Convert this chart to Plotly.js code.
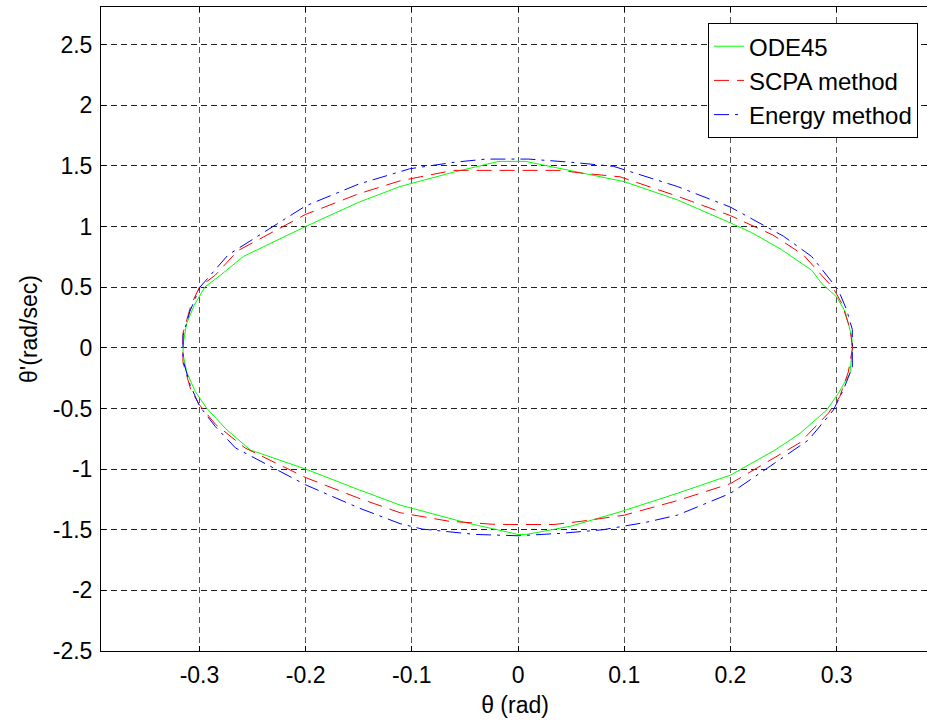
<!DOCTYPE html>
<html>
<head>
<meta charset="utf-8">
<script src="https://cdn.plot.ly/plotly-3.0.1.min.js"></script>
<style>
html,body{margin:0;padding:0;overflow:hidden;background:#fff;}
#chart{width:930px;height:723px;}
</style>
</head>
<body>
<div id="chart"></div>
<script>
// ODE45 (green, solid)
const odeX = [0.3148, 0.3143, 0.308, 0.300, 0.286, 0.2765, 0.248, 0.22, 0.2, 0.15, 0.1, 0.05, 0.007, -0.018, -0.06, -0.111, -0.15, -0.2, -0.2587, -0.28, -0.295, -0.305, -0.312, -0.315, -0.3155, -0.312, -0.304, -0.293, -0.275, -0.252, -0.2, -0.15, -0.111, -0.05, 0.0, 0.008, 0.05, 0.096, 0.15, 0.2, 0.242, 0.2655, 0.2907, 0.3016, 0.3126, 0.3148];
const odeY = [0.0, 0.09, 0.30, 0.42, 0.53, 0.64, 0.81, 0.95, 1.03, 1.22, 1.37, 1.46, 1.537, 1.537, 1.45, 1.33, 1.2, 1.0, 0.753, 0.6, 0.5, 0.35, 0.2, 0.05, -0.05, -0.2, -0.36, -0.5, -0.67, -0.843, -1.0, -1.17, -1.297, -1.44, -1.539, -1.539, -1.47, -1.353, -1.2, -1.05, -0.843, -0.706, -0.513, -0.375, -0.21, 0.0];

// SCPA method (red, dashed)
const scpaX = [0.315, 0.3126, 0.3048, 0.297, 0.2687, 0.24, 0.2, 0.15, 0.096, 0.06, 0.04, -0.003, -0.017, -0.061, -0.111, -0.15, -0.2, -0.264, -0.285, -0.3, -0.308, -0.3155, -0.3155, -0.308, -0.3, -0.285, -0.257, -0.2, -0.15, -0.111, -0.065, -0.024, -0.008, 0.034, 0.06, 0.1, 0.15, 0.2, 0.2655, 0.2922, 0.303, 0.311, 0.315];
const scpaY = [0.0, 0.16, 0.367, 0.49, 0.766, 0.93, 1.09, 1.25, 1.41, 1.44, 1.463, 1.463, 1.463, 1.463, 1.377, 1.27, 1.1, 0.8, 0.6, 0.5, 0.35, 0.12, -0.12, -0.35, -0.47, -0.63, -0.826, -1.07, -1.24, -1.36, -1.43, -1.455, -1.457, -1.457, -1.43, -1.38, -1.26, -1.12, -0.782, -0.54, -0.403, -0.2, 0.0];

// Energy method (blue, dash-dot)
const enX = [0.3148, 0.3148, 0.3095, 0.3016, 0.2765, 0.25, 0.2, 0.15, 0.09, 0.05, 0.01, -0.03, -0.06, -0.102, -0.15, -0.2, -0.273, -0.29, -0.2995, -0.309, -0.3155, -0.3155, -0.309, -0.3, -0.285, -0.266, -0.2, -0.15, -0.111, -0.09, -0.04, 0.0, 0.04, 0.08, 0.12, 0.15, 0.2, 0.2734, 0.297, 0.3063, 0.3148];
const enY = [-0.16, 0.15, 0.312, 0.477, 0.753, 0.92, 1.16, 1.33, 1.496, 1.53, 1.556, 1.556, 1.53, 1.476, 1.35, 1.17, 0.766, 0.6, 0.5, 0.3, 0.1, -0.1, -0.3, -0.48, -0.65, -0.826, -1.13, -1.32, -1.45, -1.495, -1.539, -1.55, -1.53, -1.5, -1.44, -1.38, -1.2, -0.761, -0.513, -0.348, -0.16];

const xTickVals = [-0.3, -0.2, -0.1, 0, 0.1, 0.2, 0.3];
const xTickText = ["-0.3", "-0.2", "-0.1", "0", "0.1", "0.2", "0.3"];
const yTickVals = [-2.5, -2, -1.5, -1, -0.5, 0, 0.5, 1, 1.5, 2, 2.5];
const yTickText = ["-2.5", "-2", "-1.5", "-1", "-0.5", "0", "0.5", "1", "1.5", "2", "2.5"];

const FONT = "Liberation Sans, Arial, Helvetica, sans-serif";
const FS = 23;
const LFS = 24;

const traces = [
  {x: odeX, y: odeY, name: "ODE45", mode: "lines", type: "scatter", legendgroup: "g1",
   line: {color: "#00ff00", width: 1}},
  {x: scpaX, y: scpaY, name: "SCPA method", mode: "lines", type: "scatter", legendgroup: "g2",
   line: {color: "#ff0000", width: 1, dash: "15px,8px"}},
  {x: enX, y: enY, name: "Energy method", mode: "lines", type: "scatter", legendgroup: "g3",
   line: {color: "#0000ff", width: 1, dash: "15px,6px,3px,6px"}}
];

const layout = {
  width: 930, height: 723,
  margin: {l: 101, r: 1, t: 7, b: 72, pad: 0},
  paper_bgcolor: "#fff", plot_bgcolor: "#fff",
  showlegend: true,
  font: {family: FONT, size: FS, color: "#000"},
  xaxis: {
    range: [-0.3927, 0.387],
    tickvals: xTickVals, ticktext: xTickText,
    ticks: "inside", ticklen: 5, tickcolor: "#000", tickwidth: 1,
    showline: true, linecolor: "#000", linewidth: 1, mirror: "ticks",
    showgrid: true, gridcolor: "#555", gridwidth: 1, griddash: "6px,4px",
    zeroline: false,
    tickfont: {family: FONT, size: FS, color: "#000"},
    ticklabelstandoff: 3,
    title: {text: "θ (rad)", font: {family: FONT, size: FS, color: "#000"}, standoff: 10},
    automargin: false
  },
  yaxis: {
    range: [-2.5, 2.81],
    tickvals: yTickVals, ticktext: yTickText,
    ticks: "inside", ticklen: 5, tickcolor: "#000", tickwidth: 1,
    showline: true, linecolor: "#000", linewidth: 1, mirror: "ticks",
    showgrid: true, gridcolor: "#222", gridwidth: 1, griddash: "6px,4px",
    zeroline: false,
    tickfont: {family: FONT, size: FS, color: "#000"},
    ticklabelstandoff: 3,
    title: {text: "θ'(rad/sec)", font: {family: FONT, size: FS, color: "#000"}, standoff: 8},
    automargin: false
  },
  legend: {
    x: 0.9867, xanchor: "right", y: 0.975, yanchor: "top",
    bgcolor: "#fff", bordercolor: "#000", borderwidth: 1,
    font: {family: FONT, size: LFS, color: "#000"},
    traceorder: "grouped", tracegroupgap: 0
  }
};

Plotly.newPlot("chart", traces, layout, {displayModeBar: false, staticPlot: true});
</script>
</body>
</html>
